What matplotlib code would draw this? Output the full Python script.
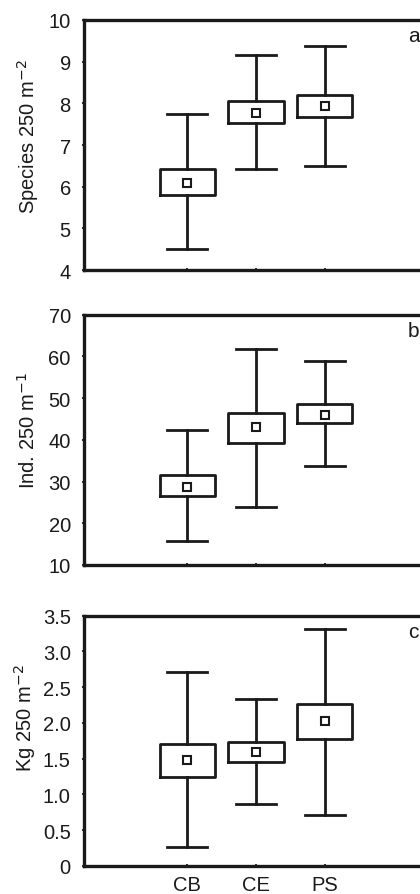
import matplotlib
matplotlib.use("Agg")
import matplotlib.pyplot as plt

plt.rcParams['font.family'] = ['Liberation Sans', 'DejaVu Sans']

sites = ['CB', 'CE', 'PS']

# panel a: species richness
species_mean = [6.10, 7.77, 7.94]
species_box_lo = [5.80, 7.53, 7.67]
species_box_hi = [6.42, 8.05, 8.21]
species_wh_lo = [4.50, 6.42, 6.50]
species_wh_hi = [7.74, 9.17, 9.38]

# panel b: abundance
ind_mean = [28.7, 43.0, 46.0]
ind_box_lo = [26.6, 39.3, 44.0]
ind_box_hi = [31.6, 46.5, 48.6]
ind_wh_lo = [15.7, 23.9, 33.8]
ind_wh_hi = [42.4, 61.7, 58.9]

# panel c: biomass
kg_mean = [1.48, 1.59, 2.03]
kg_box_lo = [1.24, 1.46, 1.77]
kg_box_hi = [1.71, 1.74, 2.26]
kg_wh_lo = [0.26, 0.86, 0.72]
kg_wh_hi = [2.71, 2.34, 3.31]

panels = [
    ('a', 'Species 250 m$^{-2}$', species_mean, species_box_lo, species_box_hi,
     species_wh_lo, species_wh_hi, (4, 10), [4, 5, 6, 7, 8, 9, 10],
     ['4', '5', '6', '7', '8', '9', '10']),
    ('b', 'Ind. 250 m$^{-1}$', ind_mean, ind_box_lo, ind_box_hi,
     ind_wh_lo, ind_wh_hi, (10, 70), [10, 20, 30, 40, 50, 60, 70],
     ['10', '20', '30', '40', '50', '60', '70']),
    ('c', 'Kg 250 m$^{-2}$', kg_mean, kg_box_lo, kg_box_hi,
     kg_wh_lo, kg_wh_hi, (0, 3.5), [0, 0.5, 1.0, 1.5, 2.0, 2.5, 3.0, 3.5],
     ['0', '0.5', '1.0', '1.5', '2.0', '2.5', '3.0', '3.5']),
]

ink = '#1a1a1a'
fig = plt.figure(figsize=(4.2, 8.95), dpi=100)
bottoms = [0.697, 0.3676, 0.0313]
label_xy = [(-0.125, 0.536), (-0.13, 0.54), (-0.135, 0.594)]

for (tag, ylab, mean, blo, bhi, wlo, whi, ylim, yt, ytl), bot, lxy in zip(panels, bottoms, label_xy):
    ax = fig.add_axes([0.2, bot, 0.819, 0.2796])
    stats = []
    for i in range(len(sites)):
        stats.append(dict(med=mean[i], q1=blo[i], q3=bhi[i], whislo=wlo[i],
                          whishi=whi[i], mean=mean[i], fliers=[], label=sites[i]))
    ax.bxp(stats, positions=[1, 2, 3], widths=0.8, capwidths=0.58,
           showmeans=True, showfliers=False,
           boxprops=dict(color=ink, linewidth=2.0),
           whiskerprops=dict(color=ink, linewidth=2.0),
           capprops=dict(color=ink, linewidth=2.0),
           medianprops=dict(linewidth=0),
           meanprops=dict(marker='s', markerfacecolor='white',
                          markeredgecolor=ink, markersize=5.5,
                          markeredgewidth=1.5))
    ax.set_xlim(-0.5, 4.5)
    ax.set_ylim(*ylim)
    ax.set_yticks(yt)
    ax.set_yticklabels(ytl)
    ax.set_xticks([1, 2, 3])
    if tag == 'c':
        ax.set_xticklabels(sites)
    else:
        ax.set_xticklabels([])
    ax.tick_params(direction='inout', length=3, width=1.3, labelsize=14.5,
                   colors=ink, pad=8)
    ax.tick_params(axis='x', pad=5)
    for s in ax.spines.values():
        s.set_linewidth(2.4)
        s.set_color(ink)
    ax.set_ylabel(ylab, fontsize=14.5, color=ink)
    ax.yaxis.set_label_coords(*lxy)
    ax.text(0.942, 0.975, tag, transform=ax.transAxes, ha='left', va='top',
            fontsize=15, color=ink)

fig.savefig('out.png', dpi=100)
